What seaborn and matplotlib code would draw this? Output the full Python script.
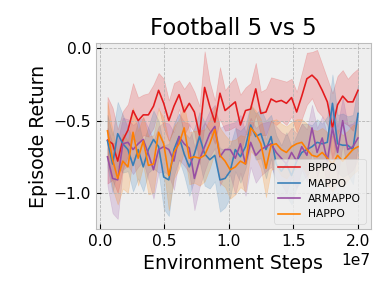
import numpy as np
import pandas as pd
import matplotlib
matplotlib.use("Agg")
import matplotlib.pyplot as plt
import seaborn as sns

algos = ["BPPO", "MAPPO", "ARMAPPO", "HAPPO"]
colors = ["#e41a1c", "#377eb8", "#984ea3", "#ff7f00"]

# environment steps (sampling grid)
steps = np.linspace(0.6e6, 2.0e7, 50)

bppo = [-0.635, -0.66, -0.78, -0.635, -0.566, -0.43, -0.50, -0.46, -0.46, -0.40,
        -0.29, -0.38, -0.50, -0.40, -0.32, -0.44, -0.38, -0.44, -0.60, -0.27,
        -0.40, -0.51, -0.31, -0.43, -0.40, -0.37, -0.53, -0.43, -0.42, -0.28,
        -0.45, -0.44, -0.35, -0.37, -0.36, -0.38, -0.34, -0.44, -0.33, -0.21,
        -0.185, -0.22, -0.29, -0.37, -0.55, -0.39, -0.33, -0.37, -0.37, -0.29]
bppo_spread = [0.30, 0.25, 0.22, 0.20, 0.18, 0.19, 0.16, 0.14, 0.15, 0.15,
               0.12, 0.17, 0.14, 0.16, 0.10, 0.16, 0.15, 0.14, 0.20, 0.25,
               0.17, 0.15, 0.18, 0.14, 0.16, 0.17, 0.21, 0.16, 0.18, 0.18,
               0.15, 0.16, 0.15, 0.16, 0.14, 0.15, 0.13, 0.14, 0.16, 0.18,
               0.16, 0.21, 0.18, 0.16, 0.24, 0.20, 0.18, 0.16, 0.20, 0.15]

mappo = [-0.64, -0.80, -0.59, -0.66, -0.70, -0.81, -0.70, -0.82, -0.70, -0.63,
         -0.68, -0.89, -0.91, -0.70, -0.61, -0.73, -0.82, -0.73, -0.61, -0.73,
         -0.77, -0.74, -0.91, -0.90, -0.85, -0.70, -0.75, -0.68, -0.53, -0.61,
         -0.59, -0.70, -0.61, -0.80, -0.85, -0.80, -0.88, -0.78, -0.72, -0.70,
         -0.68, -0.65, -0.66, -0.65, -0.38, -0.66, -0.67, -0.67, -0.70, -0.45]
mappo_spread = [0.18, 0.20, 0.22, 0.20, 0.15, 0.18, 0.20, 0.17, 0.16, 0.20,
                0.18, 0.22, 0.25, 0.18, 0.16, 0.15, 0.20, 0.18, 0.17, 0.22,
                0.20, 0.18, 0.22, 0.20, 0.18, 0.15, 0.18, 0.15, 0.14, 0.16,
                0.17, 0.20, 0.15, 0.20, 0.18, 0.22, 0.20, 0.18, 0.20, 0.18,
                0.15, 0.16, 0.14, 0.18, 0.20, 0.20, 0.22, 0.20, 0.24, 0.20]

armappo = [-0.75, -0.90, -0.91, -0.66, -0.65, -0.70, -0.66, -0.63, -0.73, -0.84,
           -0.70, -0.68, -0.70, -0.78, -0.61, -0.66, -0.69, -0.90, -0.77, -0.68,
           -0.59, -0.54, -0.75, -0.70, -0.70, -0.76, -0.66, -0.80, -0.65, -0.74,
           -0.70, -0.68, -0.66, -0.72, -0.76, -0.80, -0.72, -0.78, -0.68, -0.74,
           -0.55, -0.72, -0.62, -0.78, -0.55, -0.72, -0.50, -0.70, -0.68, -0.62]
armappo_spread = [0.20, 0.24, 0.27, 0.18, 0.16, 0.17, 0.16, 0.15, 0.18, 0.20,
                  0.16, 0.17, 0.18, 0.20, 0.16, 0.15, 0.17, 0.22, 0.19, 0.17,
                  0.16, 0.15, 0.20, 0.17, 0.18, 0.25, 0.20, 0.22, 0.17, 0.19,
                  0.18, 0.17, 0.16, 0.18, 0.18, 0.20, 0.17, 0.19, 0.16, 0.18,
                  0.16, 0.17, 0.15, 0.18, 0.17, 0.18, 0.16, 0.17, 0.16, 0.15]

happo = [-0.57, -0.77, -0.90, -0.78, -0.82, -0.58, -0.76, -0.64, -0.81, -0.80,
         -0.58, -0.66, -0.88, -0.72, -0.66, -0.55, -0.76, -0.75, -0.76, -0.74,
         -0.66, -0.56, -0.74, -0.78, -0.84, -0.82, -0.78, -0.80, -0.55, -0.59,
         -0.66, -0.83, -0.67, -0.66, -0.70, -0.72, -0.68, -0.66, -0.65, -0.70,
         -0.74, -0.75, -0.72, -0.76, -0.80, -0.74, -0.78, -0.74, -0.70, -0.68]
happo_spread = [0.20, 0.20, 0.18, 0.19, 0.18, 0.17, 0.19, 0.17, 0.20, 0.20,
                0.16, 0.18, 0.24, 0.18, 0.17, 0.16, 0.18, 0.18, 0.19, 0.18,
                0.17, 0.16, 0.19, 0.18, 0.20, 0.19, 0.18, 0.19, 0.16, 0.16,
                0.17, 0.20, 0.17, 0.17, 0.18, 0.18, 0.17, 0.17, 0.16, 0.18,
                0.18, 0.18, 0.17, 0.18, 0.19, 0.18, 0.18, 0.17, 0.17, 0.16]

series = {"BPPO": (bppo, bppo_spread), "MAPPO": (mappo, mappo_spread),
          "ARMAPPO": (armappo, armappo_spread), "HAPPO": (happo, happo_spread)}

rows = []
for name in algos:
    mean, spread = series[name]
    for s, m, d in zip(steps, mean, spread):
        rows.append((s, m - d, name))
        rows.append((s, m, name))
        rows.append((s, m + d, name))
df = pd.DataFrame(rows, columns=["step", "ret", "algo"])

plt.style.use("bmh")
fig, ax = plt.subplots(figsize=(4, 3), dpi=97)
fig.subplots_adjust(left=0.247, right=0.956, top=0.852, bottom=0.213)

sns.lineplot(data=df, x="step", y="ret", hue="algo", hue_order=algos,
             palette=colors, estimator="mean", errorbar=("pi", 100),
             linewidth=1.2, ax=ax, err_kws={"alpha": 0.2})

ax.set_xlim(-0.03e7, 2.10e7)
ax.set_ylim(-1.25, 0.037)
ax.set_yticks([0.0, -0.5, -1.0])
ax.set_xticks([0, 0.5e7, 1.0e7, 1.5e7, 2.0e7])
ax.set_title("Football 5 vs 5", fontsize=17)
ax.set_xlabel("Environment Steps", fontsize=14)
ax.set_ylabel("Episode Return", fontsize=14)
ax.tick_params(labelsize=11.5)
ax.xaxis.get_offset_text().set_fontsize(11.5)
ax.grid(True, linestyle="--", linewidth=0.6, color="#b2b2b2")

handles, labels = ax.get_legend_handles_labels()
ax.legend(handles, labels, loc="lower right", fontsize=8, frameon=True)

fig.savefig("out.png", dpi=97)
